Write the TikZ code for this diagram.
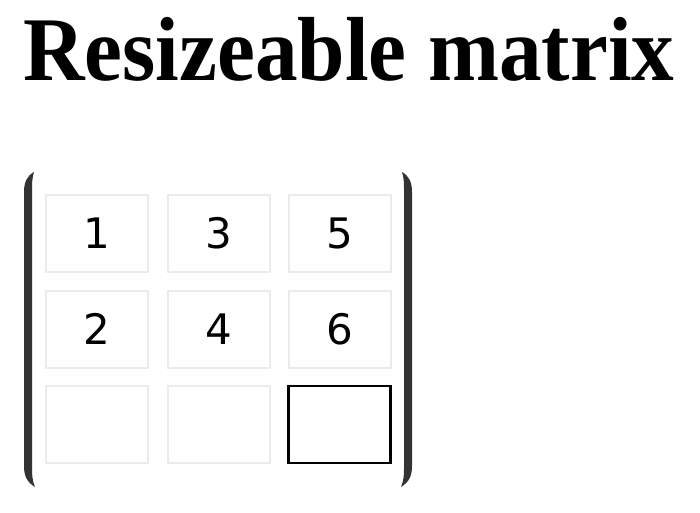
\documentclass[tikz,border=0pt]{standalone}
\usepackage{fontspec}
\setmainfont{Liberation Serif}
\newfontfamily\titlefont{Liberation Serif Bold}[FakeStretch=0.937]
\newfontfamily\digitfont{DejaVu Sans}
\definecolor{brk}{HTML}{333333}
\definecolor{cellline}{HTML}{EBEBEB}
\begin{document}
\begin{tikzpicture}[x=1pt,y=-1pt,
  cellbox/.style={draw=cellline,line width=2pt,rectangle,minimum width=102pt,minimum height=77pt,inner sep=0pt,
    font=\digitfont\fontsize{42}{42}\selectfont},
  selbox/.style={cellbox,draw=black,line width=2.5pt},
  bracket/.style={fill=brk,draw=none}]
\fill[white] (0,0) rectangle (700,512);
\useasboundingbox (0,0) rectangle (700,512);
\node[anchor=base west,inner sep=0pt,font=\titlefont\fontsize{91}{91}\selectfont] (title) at (23,80) {Resizeable matrix};
\node[cellbox] (c11) at (97,233.5) {1};
\node[cellbox] (c12) at (218.7,233.5) {3};
\node[cellbox] (c13) at (339.5,233.5) {5};
\node[cellbox] (c21) at (97,329) {2};
\node[cellbox] (c22) at (218.7,329) {4};
\node[cellbox] (c23) at (339.5,329) {6};
\node[cellbox] (c31) at (97,424.3) {};
\node[cellbox] (c32) at (218.7,424.3) {};
\node[selbox] (c33) at (339.5,424.3) {};
\path[bracket] (34,172) .. controls (27,176) and (24,182) .. (24,192) -- (24,466)
  .. controls (24,476) and (27,482) .. (35,487)
  .. controls (32,480) and (32,474) .. (32,466) -- (32,192)
  .. controls (32,184) and (32,178) .. (34,172) -- cycle;
\path[bracket] (402,172) .. controls (409,176) and (412,182) .. (412,192) -- (412,466)
  .. controls (412,476) and (409,482) .. (401,487)
  .. controls (404,480) and (404,474) .. (404,466) -- (404,192)
  .. controls (404,184) and (404,178) .. (402,172) -- cycle;
\end{tikzpicture}
\end{document}
